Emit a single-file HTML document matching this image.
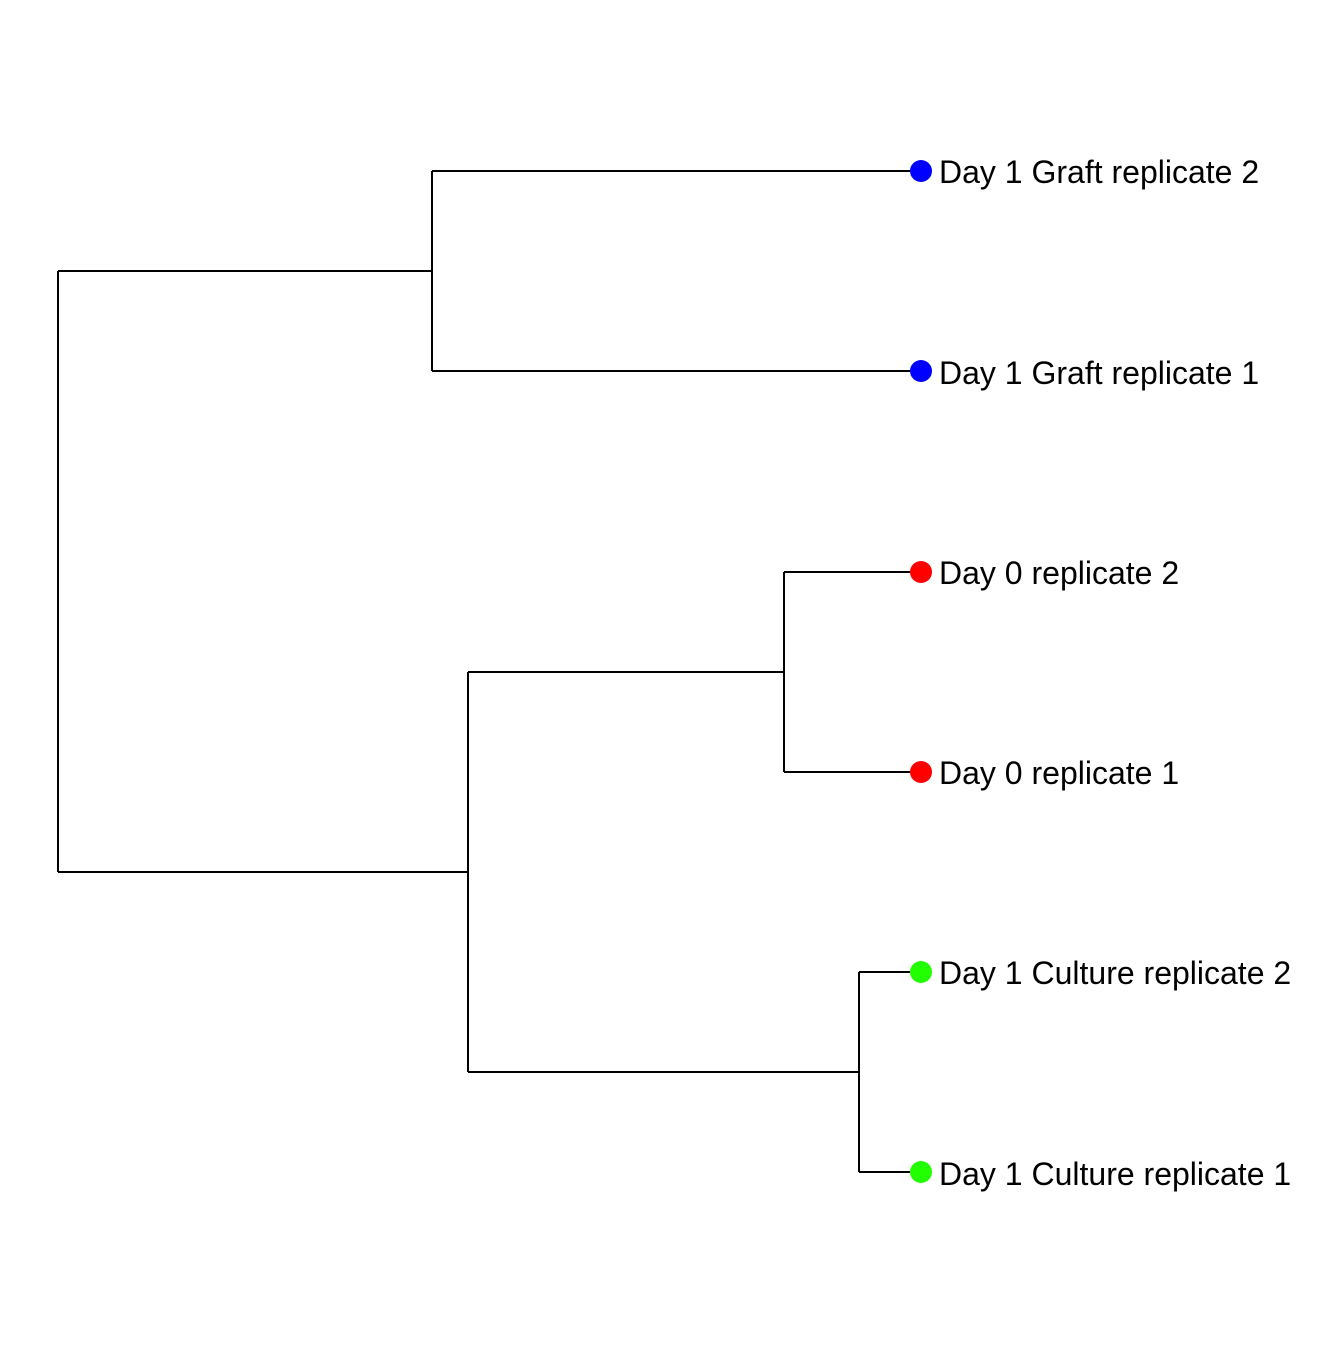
<!DOCTYPE html>
<html><head><style>html,body{margin:0;padding:0;background:#fff}</style></head>
<body>
<svg width="1344" height="1344" xmlns="http://www.w3.org/2000/svg">
<g stroke="#000" stroke-width="2" fill="none">
<path d="M58,271V872"/>
<path d="M58,271H432M432,171V371M432,171H921M432,371H921"/>
<path d="M58,872H468M468,672V1072M468,672H784M784,572V772M784,572H921M784,772H921"/>
<path d="M468,1072H859M859,972V1172M859,972H921M859,1172H921"/>
</g>
<circle cx="921" cy="171" r="11" fill="#0000ff"/>
<circle cx="921" cy="371" r="11" fill="#0000ff"/>
<circle cx="921" cy="572" r="11" fill="#ff0000"/>
<circle cx="921" cy="772" r="11" fill="#ff0000"/>
<circle cx="921" cy="972" r="11" fill="#22ff00"/>
<circle cx="921" cy="1172" r="11" fill="#22ff00"/>
<g font-family="Liberation Sans, sans-serif" font-size="32" fill="#000">
<text x="939" y="183">Day 1 Graft replicate 2</text>
<text x="939" y="384">Day 1 Graft replicate 1</text>
<text x="939" y="584">Day 0 replicate 2</text>
<text x="939" y="784">Day 0 replicate 1</text>
<text x="939" y="984">Day 1 Culture replicate 2</text>
<text x="939" y="1185">Day 1 Culture replicate 1</text>
</g>
</svg>
</body></html>
